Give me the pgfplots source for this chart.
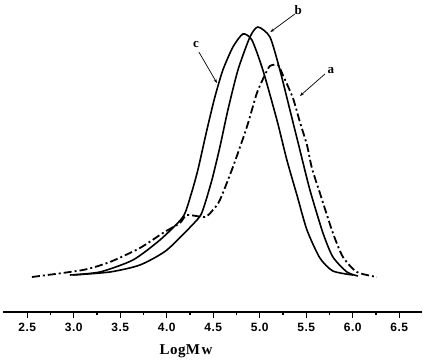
\documentclass[border=0pt]{standalone}
\usepackage{fontspec}
\setmainfont{Liberation Serif}
\newfontfamily\ticksf[LetterSpace=4]{Liberation Sans}
\usepackage{pgfplots}
\pgfplotsset{compat=1.18}
\usetikzlibrary{arrows.meta}

\pgfplotstableread{
x y
2.959 37
3.282 40
3.637 52
3.927 72
4.174 95
4.260 117
4.335 142
4.432 182
4.518 215
4.604 242
4.712 265
4.819 278
4.916 272
5.034 242
5.185 192
5.292 152
5.400 117
5.508 82
5.647 54
5.787 41
6.002 37
}\curvec

\pgfplotstableread{
x y
2.991 37
3.389 40
3.712 47
4.002 62
4.325 92
4.389 102
4.486 132
4.572 165
4.658 202
4.766 242
4.895 275
4.981 285
5.110 275
5.217 242
5.325 202
5.432 162
5.540 122
5.680 79
5.787 55
5.938 40
6.056 36
}\curveb

\pgfplotstableread{
x y
2.551 35
3.099 42
3.389 50
3.712 64
3.959 79
4.142 89
4.217 97
4.411 95
4.497 102
4.572 112
4.712 145
4.862 185
4.970 219
5.056 237
5.110 246
5.196 247
5.249 237
5.357 214
5.432 190
5.508 167
5.561 144
5.647 119
5.787 79
5.895 55
6.045 40
6.260 35
}\curvea

\begin{document}
\begin{tikzpicture}
\path[use as bounding box] (-3pt,-50pt) rectangle (424pt,312pt);
\begin{axis}[
  at={(0,0)}, anchor=south west,
  scale only axis,
  width=419pt, height=312pt,
  xmin=2.24, xmax=6.745,
  ymin=0, ymax=312,
  axis x line=bottom,
  axis y line=none,
  axis line style={-, line width=1.6pt},
  tick align=outside,
  xtick={2.5,3,3.5,4,4.5,5,5.5,6,6.5},
  minor x tick num=1,
  major tick length=5.5pt,
  minor tick length=3pt,
  every tick/.style={line width=1.3pt, black},
  xticklabel style={font=\ticksf\bfseries\fontsize{12}{14}\selectfont, yshift=-2pt},
  /pgf/number format/.cd, fixed, fixed zerofill, precision=1, assume math mode=true,
]
\addplot[black, line width=1.6pt, smooth, tension=0.4] table {\curvec};
\addplot[black, line width=1.6pt, smooth, tension=0.4] table {\curveb};
\addplot[black, line width=1.8pt, smooth, tension=0.4,
  dash pattern=on 8pt off 3pt on 2pt off 3pt] table {\curvea};
\draw[-{Stealth[length=4pt,width=3pt]}, line width=0.7pt] (axis cs:5.378,298) -- (axis cs:5.115,280);
\draw[-{Stealth[length=4pt,width=3pt]}, line width=0.7pt] (axis cs:4.346,260) -- (axis cs:4.540,229);
\draw[-{Stealth[length=4pt,width=3pt]}, line width=0.7pt] (axis cs:5.701,238) -- (axis cs:5.432,216);
\node[font=\bfseries\fontsize{13}{15}\selectfont] at (axis cs:5.413,302) {b};
\node[font=\bfseries\fontsize{13}{15}\selectfont] at (axis cs:4.314,268) {c};
\node[font=\bfseries\fontsize{13}{15}\selectfont] at (axis cs:5.766,241) {a};
\end{axis}
\node[font=\bfseries\fontsize{15}{17}\selectfont, anchor=base] at (183pt,-42pt) {L\kern0.5pt o\kern0.5pt g\kern0.5pt M\kern1.5pt w};
\end{tikzpicture}
\end{document}
